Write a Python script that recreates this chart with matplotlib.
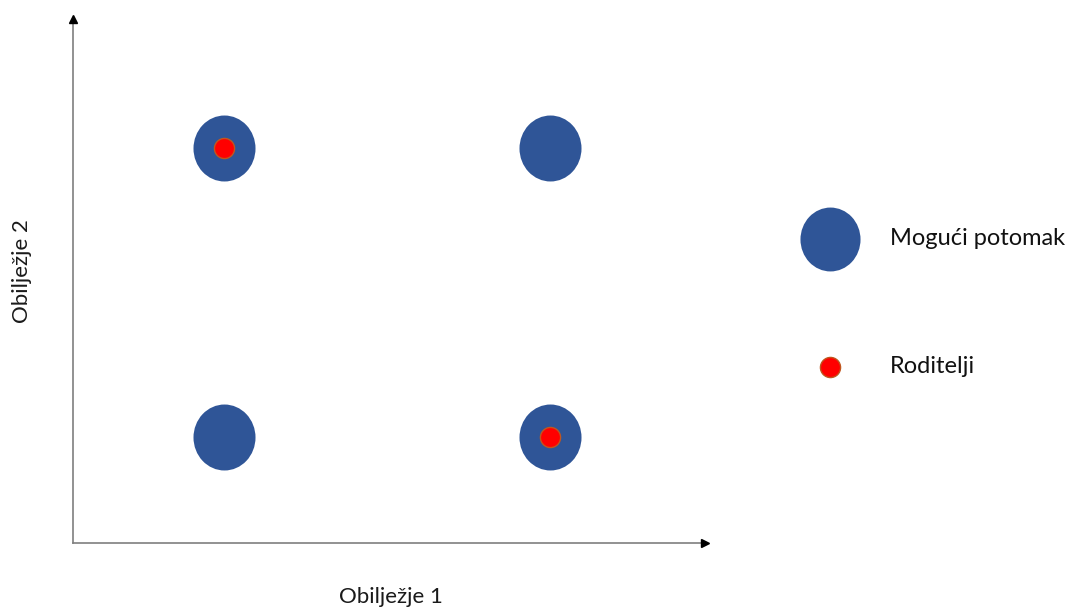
import numpy as np
import matplotlib.pyplot as plt
from matplotlib.path import Path

plt.rcParams['font.family'] = ['Lato', 'DejaVu Sans']

# data: feature coordinates of possible offspring and of the parents
offspring_x = [1, 3, 1, 3]
offspring_y = [3, 3, 1, 1]
parent_x = [1, 3]
parent_y = [3, 1]
legend_labels = ["Mogući potomak", "Roditelji"]
xlabel = "Obilježje 1"
ylabel = "Obilježje 2"

blue = "#2F5597"
red = "#FF0000"
red_edge = "#C0561E"
axis_grey = "#7F7F7F"

W, H = 1073, 607
fig = plt.figure(figsize=(W / 100, H / 100), dpi=100)

# slightly tall ellipse marker like the drawing
circ = Path.unit_circle()
ellipse = Path(circ.vertices * np.array([0.94, 1.0]), circ.codes)

# main axes, from pixel box
x0, x1, y0, y1 = 73, 705, 543, 19
ax = fig.add_axes([x0 / W, 1 - y0 / H, (x1 - x0) / W, (y0 - y1) / H])
ax.set_xlim(0.0736, 0.0736 + (x1 - x0) / 163.0)
ax.set_ylim(0.2664, 0.2664 + (y0 - y1) / 144.5)

ax.plot(offspring_x, offspring_y, ls="none", marker=ellipse, ms=47.5,
        mfc=blue, mec="none", zorder=3)
ax.plot(parent_x, parent_y, ls="none", marker="o", ms=14.5, mfc=red,
        mec=red_edge, mew=1.0, zorder=4)

for s in ["top", "right"]:
    ax.spines[s].set_visible(False)
for s in ["left", "bottom"]:
    ax.spines[s].set_color(axis_grey)
    ax.spines[s].set_linewidth(1.2)
ax.set_xticks([])
ax.set_yticks([])

# arrow heads
ax.plot([1], [0], marker=">", ms=6, color="black", transform=ax.transAxes,
        clip_on=False, zorder=5)
ax.plot([0], [1], marker="^", ms=6, color="black", transform=ax.transAxes,
        clip_on=False, zorder=5)

fig.text(391 / W, 1 - 597 / H, xlabel, ha="center", va="center",
         fontsize=16, color="#1a1a1a")
fig.text(22 / W, 1 - 271 / H, ylabel, ha="center", va="center",
         rotation=90, fontsize=16, color="#1a1a1a")

# legend drawn in its own little axes
lax = fig.add_axes([790 / W, 1 - 400 / H, 283 / W, 205 / H])
lax.set_xlim(0, 283)
lax.set_ylim(205, 0)
lax.axis("off")
leg_y = [44, 171.5]
lax.plot([39.5], [leg_y[0]], ls="none", marker=ellipse, ms=46, mfc=blue,
         mec="none", clip_on=False)
lax.plot([39.5], [leg_y[1]], ls="none", marker="o", ms=14.5, mfc=red,
         mec=red_edge, mew=1.0, clip_on=False)
for yy, lab in zip(leg_y, legend_labels):
    lax.text(100, yy, lab, ha="left", va="center", fontsize=17,
             color="#111111")

fig.savefig("out.png", dpi=100)
